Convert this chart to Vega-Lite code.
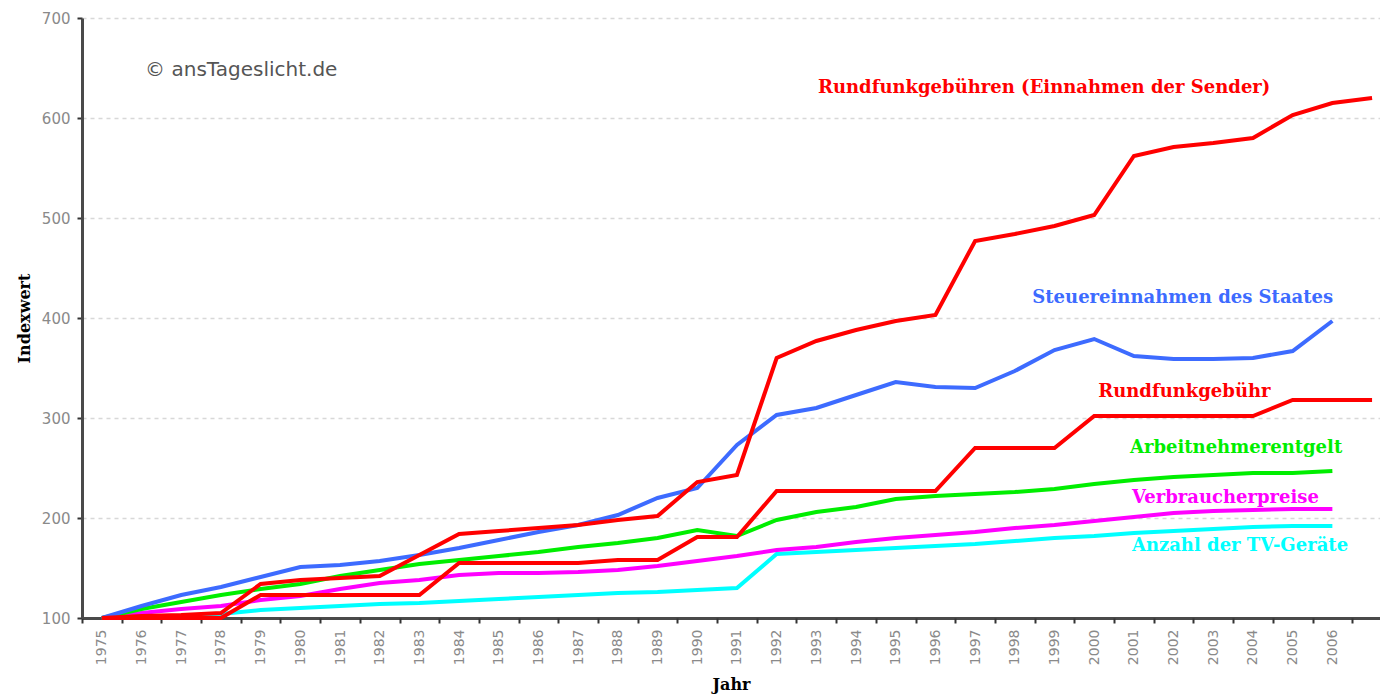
{
  "$schema": "https://vega.github.io/schema/vega-lite/v6.json",
  "width": 1298,
  "height": 600,
  "autosize": {"type": "none"},
  "padding": {"left": 82, "top": 18, "right": 0, "bottom": 80},
  "background": "white",
  "config": {
    "view": {"stroke": null},
    "axis": {"labelFont": "DejaVu Sans", "titleFont": "DejaVu Serif"}
  },
  "datasets": {
    "series": [
      {"series": "Anzahl der TV-Geräte", "year": 1975, "value": 100}, {"series": "Anzahl der TV-Geräte", "year": 1976, "value": 101}, {"series": "Anzahl der TV-Geräte", "year": 1977, "value": 102}, {"series": "Anzahl der TV-Geräte", "year": 1978, "value": 104}, {"series": "Anzahl der TV-Geräte", "year": 1979, "value": 108}, {"series": "Anzahl der TV-Geräte", "year": 1980, "value": 110}, {"series": "Anzahl der TV-Geräte", "year": 1981, "value": 112}, {"series": "Anzahl der TV-Geräte", "year": 1982, "value": 114}, {"series": "Anzahl der TV-Geräte", "year": 1983, "value": 115}, {"series": "Anzahl der TV-Geräte", "year": 1984, "value": 117}, {"series": "Anzahl der TV-Geräte", "year": 1985, "value": 119}, {"series": "Anzahl der TV-Geräte", "year": 1986, "value": 121}, {"series": "Anzahl der TV-Geräte", "year": 1987, "value": 123}, {"series": "Anzahl der TV-Geräte", "year": 1988, "value": 125}, {"series": "Anzahl der TV-Geräte", "year": 1989, "value": 126}, {"series": "Anzahl der TV-Geräte", "year": 1990, "value": 128}, {"series": "Anzahl der TV-Geräte", "year": 1991, "value": 130}, {"series": "Anzahl der TV-Geräte", "year": 1992, "value": 164}, {"series": "Anzahl der TV-Geräte", "year": 1993, "value": 166}, {"series": "Anzahl der TV-Geräte", "year": 1994, "value": 168}, {"series": "Anzahl der TV-Geräte", "year": 1995, "value": 170}, {"series": "Anzahl der TV-Geräte", "year": 1996, "value": 172}, {"series": "Anzahl der TV-Geräte", "year": 1997, "value": 174}, {"series": "Anzahl der TV-Geräte", "year": 1998, "value": 177}, {"series": "Anzahl der TV-Geräte", "year": 1999, "value": 180}, {"series": "Anzahl der TV-Geräte", "year": 2000, "value": 182}, {"series": "Anzahl der TV-Geräte", "year": 2001, "value": 185}, {"series": "Anzahl der TV-Geräte", "year": 2002, "value": 187}, {"series": "Anzahl der TV-Geräte", "year": 2003, "value": 189}, {"series": "Anzahl der TV-Geräte", "year": 2004, "value": 191}, {"series": "Anzahl der TV-Geräte", "year": 2005, "value": 192}, {"series": "Anzahl der TV-Geräte", "year": 2006, "value": 192},
      {"series": "Verbraucherpreise", "year": 1975, "value": 100}, {"series": "Verbraucherpreise", "year": 1976, "value": 105}, {"series": "Verbraucherpreise", "year": 1977, "value": 109}, {"series": "Verbraucherpreise", "year": 1978, "value": 112}, {"series": "Verbraucherpreise", "year": 1979, "value": 118}, {"series": "Verbraucherpreise", "year": 1980, "value": 122}, {"series": "Verbraucherpreise", "year": 1981, "value": 129}, {"series": "Verbraucherpreise", "year": 1982, "value": 135}, {"series": "Verbraucherpreise", "year": 1983, "value": 138}, {"series": "Verbraucherpreise", "year": 1984, "value": 143}, {"series": "Verbraucherpreise", "year": 1985, "value": 145}, {"series": "Verbraucherpreise", "year": 1986, "value": 145}, {"series": "Verbraucherpreise", "year": 1987, "value": 146}, {"series": "Verbraucherpreise", "year": 1988, "value": 148}, {"series": "Verbraucherpreise", "year": 1989, "value": 152}, {"series": "Verbraucherpreise", "year": 1990, "value": 157}, {"series": "Verbraucherpreise", "year": 1991, "value": 162}, {"series": "Verbraucherpreise", "year": 1992, "value": 168}, {"series": "Verbraucherpreise", "year": 1993, "value": 171}, {"series": "Verbraucherpreise", "year": 1994, "value": 176}, {"series": "Verbraucherpreise", "year": 1995, "value": 180}, {"series": "Verbraucherpreise", "year": 1996, "value": 183}, {"series": "Verbraucherpreise", "year": 1997, "value": 186}, {"series": "Verbraucherpreise", "year": 1998, "value": 190}, {"series": "Verbraucherpreise", "year": 1999, "value": 193}, {"series": "Verbraucherpreise", "year": 2000, "value": 197}, {"series": "Verbraucherpreise", "year": 2001, "value": 201}, {"series": "Verbraucherpreise", "year": 2002, "value": 205}, {"series": "Verbraucherpreise", "year": 2003, "value": 207}, {"series": "Verbraucherpreise", "year": 2004, "value": 208}, {"series": "Verbraucherpreise", "year": 2005, "value": 209}, {"series": "Verbraucherpreise", "year": 2006, "value": 209},
      {"series": "Arbeitnehmerentgelt", "year": 1975, "value": 100}, {"series": "Arbeitnehmerentgelt", "year": 1976, "value": 109}, {"series": "Arbeitnehmerentgelt", "year": 1977, "value": 116}, {"series": "Arbeitnehmerentgelt", "year": 1978, "value": 123}, {"series": "Arbeitnehmerentgelt", "year": 1979, "value": 129}, {"series": "Arbeitnehmerentgelt", "year": 1980, "value": 134}, {"series": "Arbeitnehmerentgelt", "year": 1981, "value": 142}, {"series": "Arbeitnehmerentgelt", "year": 1982, "value": 148}, {"series": "Arbeitnehmerentgelt", "year": 1983, "value": 154}, {"series": "Arbeitnehmerentgelt", "year": 1984, "value": 158}, {"series": "Arbeitnehmerentgelt", "year": 1985, "value": 162}, {"series": "Arbeitnehmerentgelt", "year": 1986, "value": 166}, {"series": "Arbeitnehmerentgelt", "year": 1987, "value": 171}, {"series": "Arbeitnehmerentgelt", "year": 1988, "value": 175}, {"series": "Arbeitnehmerentgelt", "year": 1989, "value": 180}, {"series": "Arbeitnehmerentgelt", "year": 1990, "value": 188}, {"series": "Arbeitnehmerentgelt", "year": 1991, "value": 182}, {"series": "Arbeitnehmerentgelt", "year": 1992, "value": 198}, {"series": "Arbeitnehmerentgelt", "year": 1993, "value": 206}, {"series": "Arbeitnehmerentgelt", "year": 1994, "value": 211}, {"series": "Arbeitnehmerentgelt", "year": 1995, "value": 219}, {"series": "Arbeitnehmerentgelt", "year": 1996, "value": 222}, {"series": "Arbeitnehmerentgelt", "year": 1997, "value": 224}, {"series": "Arbeitnehmerentgelt", "year": 1998, "value": 226}, {"series": "Arbeitnehmerentgelt", "year": 1999, "value": 229}, {"series": "Arbeitnehmerentgelt", "year": 2000, "value": 234}, {"series": "Arbeitnehmerentgelt", "year": 2001, "value": 238}, {"series": "Arbeitnehmerentgelt", "year": 2002, "value": 241}, {"series": "Arbeitnehmerentgelt", "year": 2003, "value": 243}, {"series": "Arbeitnehmerentgelt", "year": 2004, "value": 245}, {"series": "Arbeitnehmerentgelt", "year": 2005, "value": 245}, {"series": "Arbeitnehmerentgelt", "year": 2006, "value": 247},
      {"series": "Steuereinnahmen des Staates", "year": 1975, "value": 100}, {"series": "Steuereinnahmen des Staates", "year": 1976, "value": 112}, {"series": "Steuereinnahmen des Staates", "year": 1977, "value": 123}, {"series": "Steuereinnahmen des Staates", "year": 1978, "value": 131}, {"series": "Steuereinnahmen des Staates", "year": 1979, "value": 141}, {"series": "Steuereinnahmen des Staates", "year": 1980, "value": 151}, {"series": "Steuereinnahmen des Staates", "year": 1981, "value": 153}, {"series": "Steuereinnahmen des Staates", "year": 1982, "value": 157}, {"series": "Steuereinnahmen des Staates", "year": 1983, "value": 163}, {"series": "Steuereinnahmen des Staates", "year": 1984, "value": 170}, {"series": "Steuereinnahmen des Staates", "year": 1985, "value": 178}, {"series": "Steuereinnahmen des Staates", "year": 1986, "value": 186}, {"series": "Steuereinnahmen des Staates", "year": 1987, "value": 193}, {"series": "Steuereinnahmen des Staates", "year": 1988, "value": 203}, {"series": "Steuereinnahmen des Staates", "year": 1989, "value": 220}, {"series": "Steuereinnahmen des Staates", "year": 1990, "value": 230}, {"series": "Steuereinnahmen des Staates", "year": 1991, "value": 273}, {"series": "Steuereinnahmen des Staates", "year": 1992, "value": 303}, {"series": "Steuereinnahmen des Staates", "year": 1993, "value": 310}, {"series": "Steuereinnahmen des Staates", "year": 1994, "value": 323}, {"series": "Steuereinnahmen des Staates", "year": 1995, "value": 336}, {"series": "Steuereinnahmen des Staates", "year": 1996, "value": 331}, {"series": "Steuereinnahmen des Staates", "year": 1997, "value": 330}, {"series": "Steuereinnahmen des Staates", "year": 1998, "value": 347}, {"series": "Steuereinnahmen des Staates", "year": 1999, "value": 368}, {"series": "Steuereinnahmen des Staates", "year": 2000, "value": 379}, {"series": "Steuereinnahmen des Staates", "year": 2001, "value": 362}, {"series": "Steuereinnahmen des Staates", "year": 2002, "value": 359}, {"series": "Steuereinnahmen des Staates", "year": 2003, "value": 359}, {"series": "Steuereinnahmen des Staates", "year": 2004, "value": 360}, {"series": "Steuereinnahmen des Staates", "year": 2005, "value": 367}, {"series": "Steuereinnahmen des Staates", "year": 2006, "value": 397},
      {"series": "Rundfunkgebühr", "year": 1975, "value": 100}, {"series": "Rundfunkgebühr", "year": 1976, "value": 100}, {"series": "Rundfunkgebühr", "year": 1977, "value": 100}, {"series": "Rundfunkgebühr", "year": 1978, "value": 100}, {"series": "Rundfunkgebühr", "year": 1979, "value": 123}, {"series": "Rundfunkgebühr", "year": 1980, "value": 123}, {"series": "Rundfunkgebühr", "year": 1981, "value": 123}, {"series": "Rundfunkgebühr", "year": 1982, "value": 123}, {"series": "Rundfunkgebühr", "year": 1983, "value": 123}, {"series": "Rundfunkgebühr", "year": 1984, "value": 155}, {"series": "Rundfunkgebühr", "year": 1985, "value": 155}, {"series": "Rundfunkgebühr", "year": 1986, "value": 155}, {"series": "Rundfunkgebühr", "year": 1987, "value": 155}, {"series": "Rundfunkgebühr", "year": 1988, "value": 158}, {"series": "Rundfunkgebühr", "year": 1989, "value": 158}, {"series": "Rundfunkgebühr", "year": 1990, "value": 181}, {"series": "Rundfunkgebühr", "year": 1991, "value": 181}, {"series": "Rundfunkgebühr", "year": 1992, "value": 227}, {"series": "Rundfunkgebühr", "year": 1993, "value": 227}, {"series": "Rundfunkgebühr", "year": 1994, "value": 227}, {"series": "Rundfunkgebühr", "year": 1995, "value": 227}, {"series": "Rundfunkgebühr", "year": 1996, "value": 227}, {"series": "Rundfunkgebühr", "year": 1997, "value": 270}, {"series": "Rundfunkgebühr", "year": 1998, "value": 270}, {"series": "Rundfunkgebühr", "year": 1999, "value": 270}, {"series": "Rundfunkgebühr", "year": 2000, "value": 302}, {"series": "Rundfunkgebühr", "year": 2001, "value": 302}, {"series": "Rundfunkgebühr", "year": 2002, "value": 302}, {"series": "Rundfunkgebühr", "year": 2003, "value": 302}, {"series": "Rundfunkgebühr", "year": 2004, "value": 302}, {"series": "Rundfunkgebühr", "year": 2005, "value": 318}, {"series": "Rundfunkgebühr", "year": 2006, "value": 318}, {"series": "Rundfunkgebühr", "year": 2007, "value": 318},
      {"series": "Rundfunkgebühren (Einnahmen der Sender)", "year": 1975, "value": 100}, {"series": "Rundfunkgebühren (Einnahmen der Sender)", "year": 1976, "value": 102}, {"series": "Rundfunkgebühren (Einnahmen der Sender)", "year": 1977, "value": 103}, {"series": "Rundfunkgebühren (Einnahmen der Sender)", "year": 1978, "value": 105}, {"series": "Rundfunkgebühren (Einnahmen der Sender)", "year": 1979, "value": 134}, {"series": "Rundfunkgebühren (Einnahmen der Sender)", "year": 1980, "value": 138}, {"series": "Rundfunkgebühren (Einnahmen der Sender)", "year": 1981, "value": 140}, {"series": "Rundfunkgebühren (Einnahmen der Sender)", "year": 1982, "value": 142}, {"series": "Rundfunkgebühren (Einnahmen der Sender)", "year": 1983, "value": 163}, {"series": "Rundfunkgebühren (Einnahmen der Sender)", "year": 1984, "value": 184}, {"series": "Rundfunkgebühren (Einnahmen der Sender)", "year": 1985, "value": 187}, {"series": "Rundfunkgebühren (Einnahmen der Sender)", "year": 1986, "value": 190}, {"series": "Rundfunkgebühren (Einnahmen der Sender)", "year": 1987, "value": 193}, {"series": "Rundfunkgebühren (Einnahmen der Sender)", "year": 1988, "value": 198}, {"series": "Rundfunkgebühren (Einnahmen der Sender)", "year": 1989, "value": 202}, {"series": "Rundfunkgebühren (Einnahmen der Sender)", "year": 1990, "value": 236}, {"series": "Rundfunkgebühren (Einnahmen der Sender)", "year": 1991, "value": 243}, {"series": "Rundfunkgebühren (Einnahmen der Sender)", "year": 1992, "value": 360}, {"series": "Rundfunkgebühren (Einnahmen der Sender)", "year": 1993, "value": 377}, {"series": "Rundfunkgebühren (Einnahmen der Sender)", "year": 1994, "value": 388}, {"series": "Rundfunkgebühren (Einnahmen der Sender)", "year": 1995, "value": 397}, {"series": "Rundfunkgebühren (Einnahmen der Sender)", "year": 1996, "value": 403}, {"series": "Rundfunkgebühren (Einnahmen der Sender)", "year": 1997, "value": 477}, {"series": "Rundfunkgebühren (Einnahmen der Sender)", "year": 1998, "value": 484}, {"series": "Rundfunkgebühren (Einnahmen der Sender)", "year": 1999, "value": 492}, {"series": "Rundfunkgebühren (Einnahmen der Sender)", "year": 2000, "value": 503}, {"series": "Rundfunkgebühren (Einnahmen der Sender)", "year": 2001, "value": 562}, {"series": "Rundfunkgebühren (Einnahmen der Sender)", "year": 2002, "value": 571}, {"series": "Rundfunkgebühren (Einnahmen der Sender)", "year": 2003, "value": 575}, {"series": "Rundfunkgebühren (Einnahmen der Sender)", "year": 2004, "value": 580}, {"series": "Rundfunkgebühren (Einnahmen der Sender)", "year": 2005, "value": 603}, {"series": "Rundfunkgebühren (Einnahmen der Sender)", "year": 2006, "value": 615}, {"series": "Rundfunkgebühren (Einnahmen der Sender)", "year": 2007, "value": 620}
    ],
    "labels": [
      {"series": "Rundfunkgebühren (Einnahmen der Sender)", "year": 1993.04, "value": 630},
      {"series": "Steuereinnahmen des Staates", "year": 1998.44, "value": 420},
      {"series": "Rundfunkgebühr", "year": 2000.1, "value": 326},
      {"series": "Arbeitnehmerentgelt", "year": 2000.9, "value": 270},
      {"series": "Verbraucherpreise", "year": 2000.95, "value": 220},
      {"series": "Anzahl der TV-Geräte", "year": 2000.95, "value": 172}
    ],
    "note": [
      {"text": "© ansTageslicht.de", "year": 1976.09, "value": 648}
    ]
  },
  "layer": [
    {
      "data": {"name": "series"},
      "mark": {"type": "line", "strokeJoin": "miter", "strokeCap": "butt"},
      "encoding": {
        "x": {
          "field": "year", "type": "quantitative",
          "scale": {"domain": [1974.5, 2007.2], "nice": false, "zero": false},
          "axis": {
            "orient": "bottom",
            "values": [1975,1976,1977,1978,1979,1980,1981,1982,1983,1984,1985,1986,1987,1988,1989,1990,1991,1992,1993,1994,1995,1996,1997,1998,1999,2000,2001,2002,2003,2004,2005,2006],
            "format": "d", "labelAngle": -90, "labelFontSize": 14, "labelColor": "#8a8a8a",
            "labelPadding": 11, "labelFlush": false, "labelOverlap": false, "labelBound": false,
            "ticks": false, "grid": false,
            "domainColor": "#4a4a4a", "domainWidth": 3,
            "title": "Jahr", "titleFontSize": 16, "titleFontWeight": "bold", "titleColor": "#000", "titlePadding": 12
          }
        },
        "y": {
          "field": "value", "type": "quantitative",
          "scale": {"domain": [100, 700], "nice": false, "zero": false},
          "axis": {
            "values": [100,200,300,400,500,600,700],
            "labelFontSize": 15, "labelColor": "#8a8a8a", "labelPadding": 7,
            "tickColor": "#333", "tickSize": 5, "tickWidth": 2,
            "domainColor": "#4a4a4a", "domainWidth": 3,
            "grid": true, "gridColor": "#d8d8d8", "gridDash": [4, 4], "gridWidth": 1.5,
            "title": "Indexwert", "titleFontSize": 16, "titleFontWeight": "bold", "titleColor": "#000", "titlePadding": 9
          }
        },
        "color": {
          "field": "series", "type": "nominal", "legend": null,
          "scale": {
            "domain": ["Anzahl der TV-Geräte", "Verbraucherpreise", "Arbeitnehmerentgelt", "Steuereinnahmen des Staates", "Rundfunkgebühr", "Rundfunkgebühren (Einnahmen der Sender)"],
            "range": ["#00ffff", "#ff00ff", "#00ee00", "#3d6bff", "#ff0000", "#ff0000"]
          }
        },
        "strokeWidth": {
          "field": "series", "type": "nominal", "legend": null,
          "scale": {
            "domain": ["Anzahl der TV-Geräte", "Verbraucherpreise", "Arbeitnehmerentgelt", "Steuereinnahmen des Staates", "Rundfunkgebühr", "Rundfunkgebühren (Einnahmen der Sender)"],
            "range": [4, 4, 3.5, 3.5, 5.5, 5.5]
          }
        }
      }
    },
    {
      "data": {"name": "labels"},
      "mark": {"type": "text", "align": "left", "baseline": "middle", "font": "DejaVu Serif", "fontWeight": "bold", "fontSize": 18},
      "encoding": {
        "x": {
          "field": "year", "type": "quantitative",
          "axis": {
            "orient": "bottom",
            "values": [1974.5,1975.5,1976.5,1977.5,1978.5,1979.5,1980.5,1981.5,1982.5,1983.5,1984.5,1985.5,1986.5,1987.5,1988.5,1989.5,1990.5,1991.5,1992.5,1993.5,1994.5,1995.5,1996.5,1997.5,1998.5,1999.5,2000.5,2001.5,2002.5,2003.5,2004.5,2005.5,2006.5],
            "labels": false, "domain": false, "grid": false, "ticks": true,
            "tickColor": "#333", "tickSize": 5, "tickWidth": 2, "title": null
          }
        },
        "y": {"field": "value", "type": "quantitative"},
        "text": {"field": "series"},
        "color": {"field": "series", "type": "nominal", "legend": null}
      }
    },
    {
      "data": {"name": "note"},
      "mark": {"type": "text", "align": "left", "baseline": "middle", "font": "DejaVu Sans", "fontSize": 20, "color": "#555555"},
      "encoding": {
        "x": {"field": "year", "type": "quantitative", "axis": null},
        "y": {"field": "value", "type": "quantitative"},
        "text": {"field": "text"}
      }
    }
  ],
  "resolve": {"axis": {"x": "independent"}}
}
